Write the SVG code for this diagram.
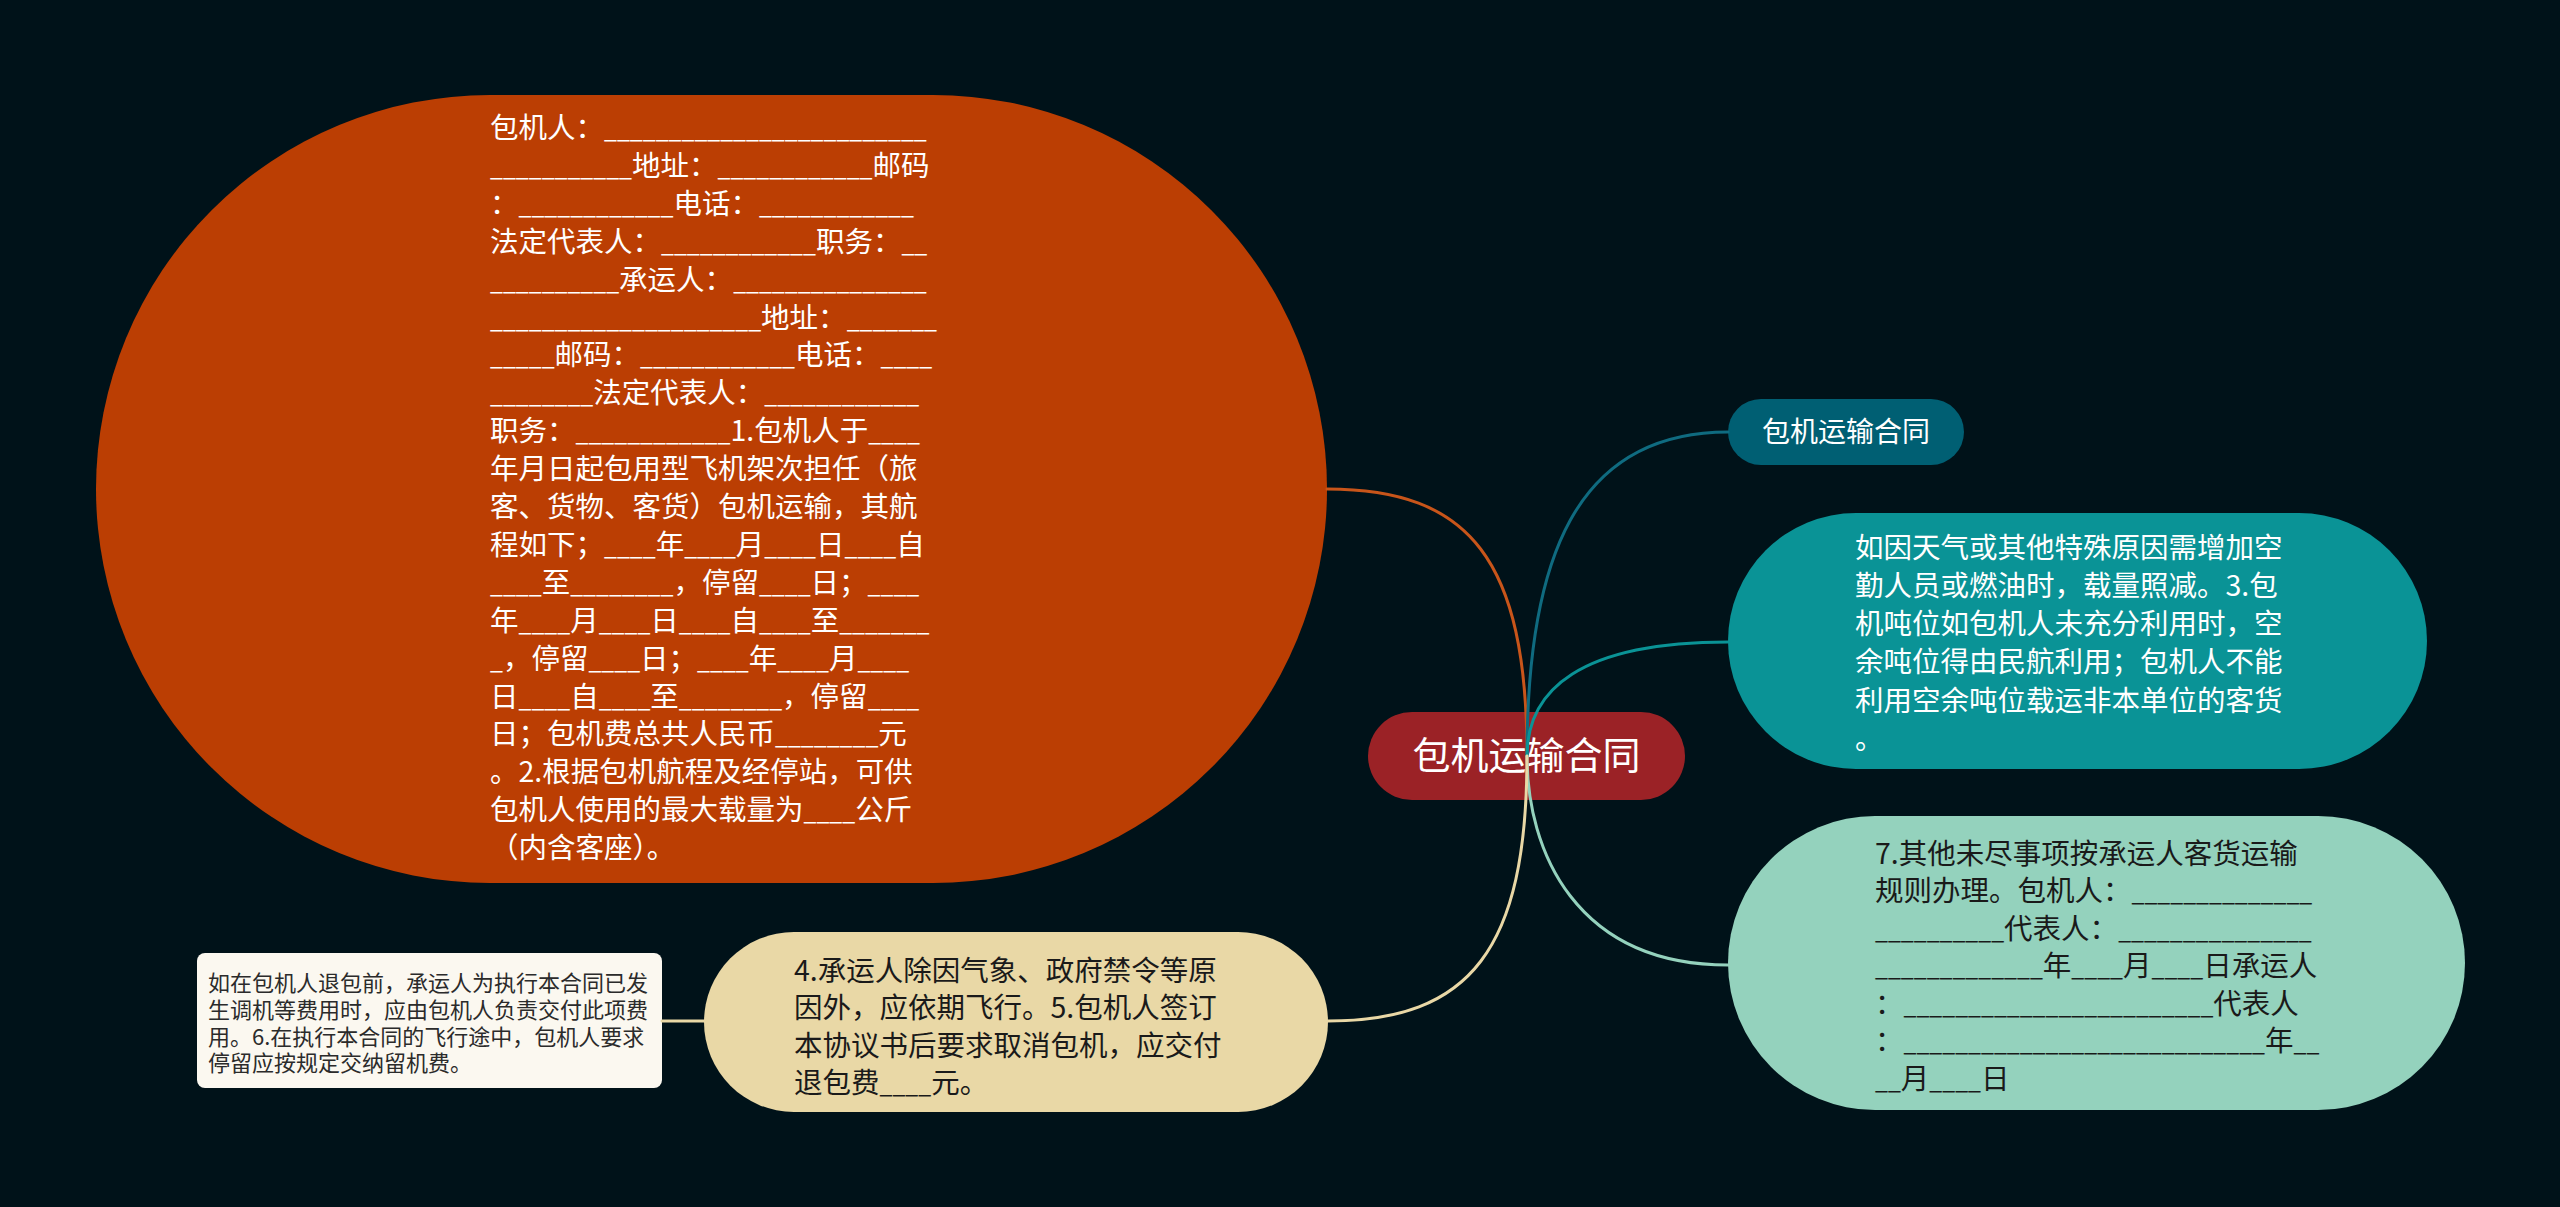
<svg xmlns="http://www.w3.org/2000/svg" width="2560" height="1207" viewBox="0 0 2560 1207">
<style>
text{font-family:"Noto Sans CJK SC","Noto Sans",sans-serif;}
.w{fill:#ffffff;font-size:28.5px;}
.d{fill:#1a1a1a;font-size:28.5px;}
.s{fill:#2b2b2b;font-size:22px;}
.u{font-size:23.1px;}
.c{fill:none;stroke-width:3;stroke-linecap:round;}
</style>
<rect x="0" y="0" width="2560" height="1207" fill="#001219"/>
<g id="node-orange">
<rect x="96" y="95" width="1231" height="788" rx="394" ry="394" fill="#BB3E03"/>
<text class="w">
<tspan x="490" y="138">包机人：<tspan class="u">_________________________</tspan></tspan>
<tspan x="490" y="176"><tspan class="u">___________</tspan>地址：<tspan class="u">____________</tspan>邮码</tspan>
<tspan x="490" y="214">：<tspan class="u">____________</tspan>电话：<tspan class="u">____________</tspan></tspan>
<tspan x="490" y="252">法定代表人：<tspan class="u">____________</tspan>职务：<tspan class="u">__</tspan></tspan>
<tspan x="490" y="290"><tspan class="u">__________</tspan>承运人：<tspan class="u">_______________</tspan></tspan>
<tspan x="490" y="328"><tspan class="u">_____________________</tspan>地址：<tspan class="u">_______</tspan></tspan>
<tspan x="490" y="365"><tspan class="u">_____</tspan>邮码：<tspan class="u">____________</tspan>电话：<tspan class="u">____</tspan></tspan>
<tspan x="490" y="403"><tspan class="u">________</tspan>法定代表人：<tspan class="u">____________</tspan></tspan>
<tspan x="490" y="441">职务：<tspan class="u">____________</tspan>1.包机人于<tspan class="u">____</tspan></tspan>
<tspan x="490" y="479">年月日起包用型飞机架次担任（旅</tspan>
<tspan x="490" y="517">客、货物、客货）包机运输，其航</tspan>
<tspan x="490" y="555">程如下；<tspan class="u">____</tspan>年<tspan class="u">____</tspan>月<tspan class="u">____</tspan>日<tspan class="u">____</tspan>自</tspan>
<tspan x="490" y="593"><tspan class="u">____</tspan>至<tspan class="u">________</tspan>，停留<tspan class="u">____</tspan>日；<tspan class="u">____</tspan></tspan>
<tspan x="490" y="631">年<tspan class="u">____</tspan>月<tspan class="u">____</tspan>日<tspan class="u">____</tspan>自<tspan class="u">____</tspan>至<tspan class="u">_______</tspan></tspan>
<tspan x="490" y="669"><tspan class="u">_</tspan>，停留<tspan class="u">____</tspan>日；<tspan class="u">____</tspan>年<tspan class="u">____</tspan>月<tspan class="u">____</tspan></tspan>
<tspan x="490" y="707">日<tspan class="u">____</tspan>自<tspan class="u">____</tspan>至<tspan class="u">________</tspan>，停留<tspan class="u">____</tspan></tspan>
<tspan x="490" y="744">日；包机费总共人民币<tspan class="u">________</tspan>元</tspan>
<tspan x="490" y="782">。2.根据包机航程及经停站，可供</tspan>
<tspan x="490" y="820">包机人使用的最大载量为<tspan class="u">____</tspan>公斤</tspan>
<tspan x="490" y="858">（内含客座）。</tspan>
</text>
</g>
<g id="node-center">
<rect x="1368" y="712" width="317" height="88" rx="44" ry="44" fill="#9B2226"/>
<text x="1526.5" y="769" text-anchor="middle" fill="#ffffff" font-size="38">包机运输合同</text>
</g>
<g id="node-title">
<rect x="1728" y="399" width="236" height="66" rx="33" ry="33" fill="#005F73"/>
<text x="1846" y="442" text-anchor="middle" fill="#ffffff" font-size="28">包机运输合同</text>
</g>
<g id="node-teal">
<rect x="1728" y="513" width="699" height="256" rx="128" ry="128" fill="#0A9396"/>
<text class="w">
<tspan x="1855" y="557.5">如因天气或其他特殊原因需增加空</tspan>
<tspan x="1855" y="595.8">勤人员或燃油时，载量照减。3.包</tspan>
<tspan x="1855" y="634.1">机吨位如包机人未充分利用时，空</tspan>
<tspan x="1855" y="672.4">余吨位得由民航利用；包机人不能</tspan>
<tspan x="1855" y="710.7">利用空余吨位载运非本单位的客货</tspan>
<tspan x="1855" y="749">。</tspan>
</text>
</g>
<g id="node-mint">
<rect x="1728" y="816" width="737" height="294" rx="147" ry="147" fill="#94D2BD"/>
<text class="d">
<tspan x="1875" y="863.5">7.其他未尽事项按承运人客货运输</tspan>
<tspan x="1875" y="901">规则办理。包机人：<tspan class="u">______________</tspan></tspan>
<tspan x="1875" y="938.5"><tspan class="u">__________</tspan>代表人：<tspan class="u">_______________</tspan></tspan>
<tspan x="1875" y="976"><tspan class="u">_____________</tspan>年<tspan class="u">____</tspan>月<tspan class="u">____</tspan>日承运人</tspan>
<tspan x="1875" y="1013.5">：<tspan class="u">________________________</tspan>代表人</tspan>
<tspan x="1875" y="1051">：<tspan class="u">____________________________</tspan>年<tspan class="u">__</tspan></tspan>
<tspan x="1875" y="1088.5"><tspan class="u">__</tspan>月<tspan class="u">____</tspan>日</tspan>
</text>
</g>
<g id="node-beige">
<rect x="704" y="932" width="624" height="180" rx="90" ry="90" fill="#E9D8A6"/>
<text class="d">
<tspan x="794" y="980.5">4.承运人除因气象、政府禁令等原</tspan>
<tspan x="794" y="1018">因外，应依期飞行。5.包机人签订</tspan>
<tspan x="794" y="1055.5">本协议书后要求取消包机，应交付</tspan>
<tspan x="794" y="1093">退包费<tspan class="u">____</tspan>元。</tspan>
</text>
</g>
<g id="node-note">
<rect x="197" y="953" width="465" height="135" rx="8" ry="8" fill="#FBF8F0"/>
<text class="s">
<tspan x="208" y="991">如在包机人退包前，承运人为执行本合同已发</tspan>
<tspan x="208" y="1018">生调机等费用时，应由包机人负责交付此项费</tspan>
<tspan x="208" y="1044.5">用。6.在执行本合同的飞行途中，包机人要求</tspan>
<tspan x="208" y="1071">停留应按规定交纳留机费。</tspan>
</text>
</g>
<g id="connectors">
<path class="c" d="M1527 756 C1527 560 1470 489 1327 489" stroke="#C8551A"/>
<path class="c" d="M1527 756 C1527 560 1575 432 1728 432" stroke="#0F6B80"/>
<path class="c" d="M1527 756 C1527 690 1580 642 1728 642" stroke="#0A9396"/>
<path class="c" d="M1527 756 C1527 850 1575 965 1728 965" stroke="#94D2BD"/>
<path class="c" d="M1527 756 C1527 950 1470 1021 1328 1021" stroke="#E9D8A6"/>
<path class="c" d="M704 1021 L662 1021" stroke="#E9D8A6"/>
</g>
</svg>
